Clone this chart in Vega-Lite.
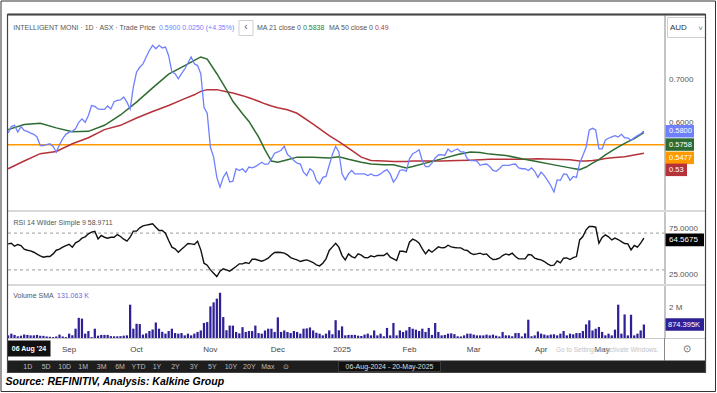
{
"$schema": "https://vega.github.io/schema/vega-lite/v6.json",
"padding": 0,
"bounds": "flush",
"spacing": 0,
"background": "white",
"data": {"values": [{}]},
"config": {"view": {"stroke": null}, "font": "Liberation Sans", "text": {"font": "Liberation Sans"}},
"resolve": {"scale": {"x": "independent", "y": "independent"}},
"datasets": {
"d": [
{"d":"2024-08-06","p":0.575,"r":58.3,"v":0.17},{"d":"2024-08-07","p":0.590,"r":59.0,"v":0.28},{"d":"2024-08-08","p":0.593,"r":55.8,"v":0.20},{"d":"2024-08-09","p":0.577,"r":57.6,"v":0.11},{"d":"2024-08-12","p":0.590,"r":56.5,"v":0.15},{"d":"2024-08-13","p":0.581,"r":52.5,"v":0.22},{"d":"2024-08-14","p":0.579,"r":51.4,"v":0.20},{"d":"2024-08-15","p":0.575,"r":50.7,"v":0.17},{"d":"2024-08-16","p":0.572,"r":49.2,"v":0.17},{"d":"2024-08-19","p":0.566,"r":47.1,"v":0.20},
{"d":"2024-08-20","p":0.546,"r":45.3,"v":0.15},{"d":"2024-08-21","p":0.546,"r":43.8,"v":0.14},{"d":"2024-08-22","p":0.548,"r":44.5,"v":0.10},{"d":"2024-08-23","p":0.550,"r":44.5,"v":0.08},{"d":"2024-08-26","p":0.544,"r":47.4,"v":0.06},{"d":"2024-08-27","p":0.531,"r":51.4,"v":0.10},{"d":"2024-08-28","p":0.548,"r":52.5,"v":0.22},{"d":"2024-08-29","p":0.562,"r":54.7,"v":0.10},{"d":"2024-08-30","p":0.572,"r":56.5,"v":0.06},{"d":"2024-09-02","p":0.577,"r":57.9,"v":0.28},
{"d":"2024-09-03","p":0.579,"r":54.7,"v":0.17},{"d":"2024-09-04","p":0.585,"r":59.4,"v":0.60},{"d":"2024-09-05","p":0.600,"r":61.2,"v":1.30},{"d":"2024-09-06","p":0.608,"r":64.5,"v":1.25},{"d":"2024-09-09","p":0.600,"r":65.9,"v":0.28},{"d":"2024-09-10","p":0.616,"r":69.2,"v":0.45},{"d":"2024-09-11","p":0.639,"r":71.0,"v":0.06},{"d":"2024-09-12","p":0.637,"r":72.0,"v":0.60},{"d":"2024-09-13","p":0.631,"r":63.7,"v":0.15},{"d":"2024-09-16","p":0.630,"r":67.4,"v":0.20},
{"d":"2024-09-17","p":0.630,"r":65.5,"v":0.20},{"d":"2024-09-18","p":0.638,"r":64.5,"v":0.20},{"d":"2024-09-19","p":0.631,"r":65.5,"v":0.12},{"d":"2024-09-20","p":0.648,"r":65.5,"v":0.11},{"d":"2024-09-23","p":0.651,"r":68.4,"v":0.11},{"d":"2024-09-24","p":0.652,"r":66.3,"v":0.12},{"d":"2024-09-25","p":0.659,"r":63.4,"v":0.15},{"d":"2024-09-26","p":0.647,"r":61.2,"v":0.17},{"d":"2024-09-27","p":0.631,"r":65.5,"v":2.15},{"d":"2024-09-30","p":0.682,"r":72.1,"v":0.60},
{"d":"2024-10-01","p":0.717,"r":72.1,"v":0.92},{"d":"2024-10-02","p":0.728,"r":75.7,"v":0.90},{"d":"2024-10-03","p":0.736,"r":77.9,"v":0.22},{"d":"2024-10-04","p":0.752,"r":78.6,"v":0.30},{"d":"2024-10-07","p":0.767,"r":79.3,"v":0.45},{"d":"2024-10-08","p":0.779,"r":80.0,"v":0.55},{"d":"2024-10-09","p":0.771,"r":76.4,"v":1.00},{"d":"2024-10-10","p":0.779,"r":72.8,"v":0.60},{"d":"2024-10-11","p":0.773,"r":72.8,"v":0.40},{"d":"2024-10-14","p":0.775,"r":69.9,"v":0.28},
{"d":"2024-10-15","p":0.755,"r":61.9,"v":0.45},{"d":"2024-10-16","p":0.717,"r":54.7,"v":0.60},{"d":"2024-10-17","p":0.713,"r":52.9,"v":0.32},{"d":"2024-10-18","p":0.701,"r":49.2,"v":0.28},{"d":"2024-10-21","p":0.713,"r":52.5,"v":0.32},{"d":"2024-10-22","p":0.724,"r":55.4,"v":0.17},{"d":"2024-10-23","p":0.738,"r":58.7,"v":0.28},{"d":"2024-10-24","p":0.752,"r":58.3,"v":0.17},{"d":"2024-10-25","p":0.736,"r":57.6,"v":0.28},{"d":"2024-10-28","p":0.732,"r":61.2,"v":0.39},
{"d":"2024-10-29","p":0.713,"r":51.8,"v":0.49},{"d":"2024-10-30","p":0.635,"r":37.3,"v":0.97},{"d":"2024-10-31","p":0.621,"r":35.1,"v":1.03},{"d":"2024-11-01","p":0.542,"r":30.0,"v":2.04},{"d":"2024-11-04","p":0.519,"r":26.4,"v":2.30},{"d":"2024-11-05","p":0.472,"r":22.8,"v":2.54},{"d":"2024-11-06","p":0.449,"r":28.6,"v":2.92},{"d":"2024-11-07","p":0.472,"r":31.1,"v":1.35},{"d":"2024-11-08","p":0.484,"r":30.0,"v":0.50},{"d":"2024-11-11","p":0.461,"r":28.6,"v":0.80},
{"d":"2024-11-12","p":0.463,"r":31.1,"v":0.80},{"d":"2024-11-13","p":0.492,"r":33.7,"v":0.39},{"d":"2024-11-14","p":0.488,"r":36.6,"v":0.30},{"d":"2024-11-15","p":0.492,"r":36.6,"v":0.70},{"d":"2024-11-18","p":0.484,"r":38.0,"v":0.39},{"d":"2024-11-19","p":0.496,"r":36.9,"v":0.45},{"d":"2024-11-20","p":0.494,"r":41.6,"v":0.45},{"d":"2024-11-21","p":0.497,"r":41.6,"v":0.80},{"d":"2024-11-22","p":0.502,"r":40.5,"v":0.32},{"d":"2024-11-25","p":0.507,"r":39.5,"v":0.28},
{"d":"2024-11-26","p":0.502,"r":40.9,"v":0.49},{"d":"2024-11-27","p":0.503,"r":42.7,"v":0.60},{"d":"2024-11-28","p":0.515,"r":46.3,"v":0.60},{"d":"2024-11-29","p":0.528,"r":48.9,"v":0.39},{"d":"2024-12-02","p":0.531,"r":49.2,"v":1.33},{"d":"2024-12-03","p":0.535,"r":48.9,"v":0.39},{"d":"2024-12-04","p":0.544,"r":48.2,"v":0.49},{"d":"2024-12-05","p":0.525,"r":46.3,"v":0.39},{"d":"2024-12-06","p":0.519,"r":43.4,"v":0.32},{"d":"2024-12-09","p":0.511,"r":42.0,"v":0.45},
{"d":"2024-12-10","p":0.505,"r":40.9,"v":0.39},{"d":"2024-12-11","p":0.503,"r":39.1,"v":0.28},{"d":"2024-12-12","p":0.484,"r":40.2,"v":0.60},{"d":"2024-12-13","p":0.476,"r":40.9,"v":0.62},{"d":"2024-12-16","p":0.492,"r":39.5,"v":0.68},{"d":"2024-12-17","p":0.486,"r":38.0,"v":0.49},{"d":"2024-12-18","p":0.465,"r":35.5,"v":0.34},{"d":"2024-12-19","p":0.457,"r":34.4,"v":0.28},{"d":"2024-12-20","p":0.472,"r":37.3,"v":0.17},{"d":"2024-12-23","p":0.474,"r":42.0,"v":0.28},
{"d":"2024-12-24","p":0.500,"r":51.1,"v":0.49},{"d":"2024-12-27","p":0.525,"r":55.0,"v":0.24},{"d":"2024-12-30","p":0.544,"r":59.0,"v":1.15},{"d":"2024-12-31","p":0.531,"r":54.7,"v":0.50},{"d":"2025-01-02","p":0.480,"r":45.6,"v":0.75},{"d":"2025-01-03","p":0.466,"r":40.9,"v":0.17},{"d":"2025-01-06","p":0.480,"r":47.4,"v":0.20},{"d":"2025-01-07","p":0.488,"r":44.5,"v":0.20},{"d":"2025-01-08","p":0.480,"r":43.1,"v":0.20},{"d":"2025-01-09","p":0.480,"r":47.4,"v":0.15},
{"d":"2025-01-10","p":0.480,"r":46.0,"v":0.13},{"d":"2025-01-13","p":0.480,"r":43.4,"v":0.22},{"d":"2025-01-14","p":0.476,"r":43.1,"v":0.28},{"d":"2025-01-15","p":0.480,"r":45.3,"v":0.17},{"d":"2025-01-16","p":0.476,"r":44.2,"v":0.49},{"d":"2025-01-17","p":0.476,"r":45.6,"v":0.17},{"d":"2025-01-20","p":0.480,"r":45.6,"v":0.28},{"d":"2025-01-21","p":0.486,"r":45.6,"v":0.11},{"d":"2025-01-22","p":0.490,"r":48.2,"v":0.65},{"d":"2025-01-23","p":0.480,"r":43.8,"v":0.17},
{"d":"2025-01-24","p":0.461,"r":42.0,"v":0.97},{"d":"2025-01-28","p":0.471,"r":40.2,"v":0.17},{"d":"2025-01-29","p":0.488,"r":50.3,"v":0.49},{"d":"2025-01-30","p":0.490,"r":50.3,"v":0.39},{"d":"2025-01-31","p":0.486,"r":49.2,"v":0.49},{"d":"2025-02-03","p":0.515,"r":60.1,"v":0.71},{"d":"2025-02-04","p":0.527,"r":63.4,"v":0.60},{"d":"2025-02-05","p":0.531,"r":61.9,"v":0.54},{"d":"2025-02-06","p":0.536,"r":59.0,"v":0.45},{"d":"2025-02-07","p":0.510,"r":52.9,"v":0.60},
{"d":"2025-02-10","p":0.497,"r":47.4,"v":0.39},{"d":"2025-02-11","p":0.497,"r":51.8,"v":0.65},{"d":"2025-02-12","p":0.505,"r":49.2,"v":0.20},{"d":"2025-02-13","p":0.517,"r":52.1,"v":0.97},{"d":"2025-02-14","p":0.524,"r":55.0,"v":0.39},{"d":"2025-02-17","p":0.525,"r":53.9,"v":0.17},{"d":"2025-02-18","p":0.523,"r":54.3,"v":0.20},{"d":"2025-02-19","p":0.538,"r":56.8,"v":0.28},{"d":"2025-02-20","p":0.531,"r":55.0,"v":0.30},{"d":"2025-02-21","p":0.535,"r":54.3,"v":0.25},
{"d":"2025-02-24","p":0.538,"r":53.9,"v":0.11},{"d":"2025-02-25","p":0.531,"r":53.9,"v":0.10},{"d":"2025-02-26","p":0.531,"r":51.8,"v":0.17},{"d":"2025-02-27","p":0.515,"r":51.1,"v":0.28},{"d":"2025-02-28","p":0.511,"r":48.2,"v":0.28},{"d":"2025-03-03","p":0.511,"r":46.7,"v":0.22},{"d":"2025-03-04","p":0.510,"r":47.4,"v":0.17},{"d":"2025-03-05","p":0.500,"r":48.2,"v":0.17},{"d":"2025-03-06","p":0.502,"r":46.7,"v":0.17},{"d":"2025-03-07","p":0.503,"r":47.4,"v":0.22},
{"d":"2025-03-10","p":0.497,"r":43.8,"v":0.17},{"d":"2025-03-11","p":0.488,"r":41.3,"v":0.22},{"d":"2025-03-12","p":0.486,"r":41.6,"v":0.15},{"d":"2025-03-13","p":0.492,"r":42.7,"v":0.10},{"d":"2025-03-14","p":0.500,"r":45.6,"v":0.39},{"d":"2025-03-17","p":0.500,"r":47.4,"v":0.17},{"d":"2025-03-18","p":0.500,"r":46.3,"v":0.17},{"d":"2025-03-19","p":0.502,"r":48.2,"v":0.11},{"d":"2025-03-20","p":0.503,"r":44.5,"v":0.32},{"d":"2025-03-21","p":0.494,"r":42.0,"v":0.32},
{"d":"2025-03-24","p":0.492,"r":42.0,"v":0.10},{"d":"2025-03-25","p":0.492,"r":42.0,"v":0.30},{"d":"2025-03-26","p":0.488,"r":46.7,"v":1.18},{"d":"2025-03-27","p":0.494,"r":46.3,"v":0.11},{"d":"2025-03-28","p":0.486,"r":42.7,"v":0.17},{"d":"2025-03-31","p":0.472,"r":41.6,"v":0.42},{"d":"2025-04-01","p":0.484,"r":40.9,"v":0.28},{"d":"2025-04-02","p":0.476,"r":39.1,"v":0.22},{"d":"2025-04-03","p":0.465,"r":36.6,"v":0.17},{"d":"2025-04-04","p":0.453,"r":34.7,"v":0.22},
{"d":"2025-04-07","p":0.438,"r":35.1,"v":0.24},{"d":"2025-04-08","p":0.466,"r":39.8,"v":0.17},{"d":"2025-04-09","p":0.465,"r":37.7,"v":0.28},{"d":"2025-04-10","p":0.480,"r":42.7,"v":0.45},{"d":"2025-04-11","p":0.479,"r":43.1,"v":0.17},{"d":"2025-04-14","p":0.465,"r":41.3,"v":0.28},{"d":"2025-04-15","p":0.474,"r":43.4,"v":0.24},{"d":"2025-04-16","p":0.472,"r":44.5,"v":0.32},{"d":"2025-04-17","p":0.505,"r":62.6,"v":0.32},{"d":"2025-04-22","p":0.523,"r":66.3,"v":0.45},
{"d":"2025-04-23","p":0.542,"r":73.5,"v":0.88},{"d":"2025-04-24","p":0.582,"r":77.1,"v":1.14},{"d":"2025-04-28","p":0.586,"r":77.1,"v":0.49},{"d":"2025-04-29","p":0.582,"r":76.4,"v":0.60},{"d":"2025-04-30","p":0.538,"r":59.0,"v":0.71},{"d":"2025-05-01","p":0.538,"r":65.2,"v":0.39},{"d":"2025-05-02","p":0.559,"r":68.1,"v":0.17},{"d":"2025-05-05","p":0.563,"r":65.9,"v":0.28},{"d":"2025-05-06","p":0.566,"r":62.6,"v":0.17},{"d":"2025-05-07","p":0.569,"r":64.5,"v":0.54},
{"d":"2025-05-08","p":0.566,"r":63.0,"v":2.15},{"d":"2025-05-09","p":0.572,"r":60.8,"v":0.28},{"d":"2025-05-12","p":0.564,"r":58.7,"v":1.52},{"d":"2025-05-13","p":0.564,"r":58.3,"v":0.17},{"d":"2025-05-14","p":0.558,"r":51.8,"v":1.50},{"d":"2025-05-15","p":0.564,"r":56.5,"v":0.17},{"d":"2025-05-16","p":0.569,"r":54.7,"v":0.28},{"d":"2025-05-19","p":0.573,"r":59.0,"v":0.49},{"d":"2025-05-20","p":0.580,"r":64.6,"v":0.87}
],
"ma": [
{"d":"2024-08-06","g":0.583,"m":0.492},{"d":"2024-08-13","g":0.595,"m":0.510},{"d":"2024-08-20","g":0.598,"m":0.527},{"d":"2024-08-27","g":0.587,"m":0.532},{"d":"2024-09-03","g":0.578,"m":0.550},{"d":"2024-09-10","g":0.579,"m":0.564},{"d":"2024-09-17","g":0.593,"m":0.583},{"d":"2024-09-24","g":0.617,"m":0.593},{"d":"2024-10-01","g":0.647,"m":0.610},{"d":"2024-10-08","g":0.680,"m":0.625},
{"d":"2024-10-15","g":0.712,"m":0.639},{"d":"2024-10-22","g":0.732,"m":0.655},{"d":"2024-10-25","g":0.744,"m":0.664},{"d":"2024-10-29","g":0.752,"m":0.672},{"d":"2024-10-31","g":0.747,"m":0.676},{"d":"2024-11-05","g":0.713,"m":0.676},{"d":"2024-11-08","g":0.676,"m":0.671},{"d":"2024-11-12","g":0.649,"m":0.668},{"d":"2024-11-15","g":0.620,"m":0.662},{"d":"2024-11-19","g":0.602,"m":0.657},
{"d":"2024-11-22","g":0.566,"m":0.649},{"d":"2024-11-26","g":0.536,"m":0.643},{"d":"2024-11-28","g":0.510,"m":0.638},{"d":"2024-12-02","g":0.507,"m":0.634},{"d":"2024-12-05","g":0.513,"m":0.629},{"d":"2024-12-10","g":0.519,"m":0.621},{"d":"2024-12-17","g":0.519,"m":0.596},{"d":"2024-12-24","g":0.517,"m":0.569},{"d":"2024-12-31","g":0.520,"m":0.555},{"d":"2025-01-06","g":0.514,"m":0.540},
{"d":"2025-01-10","g":0.507,"m":0.519},{"d":"2025-01-15","g":0.503,"m":0.511},{"d":"2025-01-21","g":0.501,"m":0.510},{"d":"2025-01-24","g":0.501,"m":0.509},{"d":"2025-01-31","g":0.494,"m":0.509},{"d":"2025-02-04","g":0.497,"m":0.510},{"d":"2025-02-10","g":0.505,"m":0.510},{"d":"2025-02-17","g":0.515,"m":0.510},{"d":"2025-02-24","g":0.525,"m":0.511},{"d":"2025-02-28","g":0.531,"m":0.512},
{"d":"2025-03-05","g":0.530,"m":0.513},{"d":"2025-03-10","g":0.526,"m":0.514},{"d":"2025-03-17","g":0.523,"m":0.514},{"d":"2025-03-24","g":0.515,"m":0.514},{"d":"2025-03-31","g":0.508,"m":0.515},{"d":"2025-04-07","g":0.501,"m":0.514},{"d":"2025-04-14","g":0.494,"m":0.513},{"d":"2025-04-17","g":0.490,"m":0.510},{"d":"2025-04-23","g":0.496,"m":0.510},{"d":"2025-04-28","g":0.505,"m":0.511},
{"d":"2025-04-30","g":0.513,"m":0.513},{"d":"2025-05-02","g":0.524,"m":0.516},{"d":"2025-05-07","g":0.538,"m":0.518},{"d":"2025-05-12","g":0.551,"m":0.520},{"d":"2025-05-15","g":0.562,"m":0.524},{"d":"2025-05-20","g":0.576,"m":0.528}
],
"btn": [{"b":"1D"},{"b":"5D"},{"b":"10D"},{"b":"1M"},{"b":"3M"},{"b":"6M"},{"b":"YTD"},{"b":"1Y"},{"b":"2Y"},{"b":"3Y"},{"b":"5Y"},{"b":"10Y"},{"b":"20Y"},{"b":"Max"},{"b":"⊙"}]
},
"vconcat": [
{
"width": 698, "height": 196,
"layer": [
{"mark": {"type": "rule", "color": "#ff9900", "strokeWidth": 1.5}, "encoding": {"y": {"datum": 0.5477, "type": "quantitative", "scale": {"domain": [0.3937, 0.8496], "nice": false, "zero": false}, "axis": {"orient": "right", "offset": -41.5, "values": [0.6, 0.7], "format": ".4f", "title": null, "ticks": false, "grid": false, "domainColor": "#8a8a8a", "labelColor": "#555", "labelFontSize": 8, "labelPadding": 4, "labelFont": "Liberation Sans"}}, "x": {"value": 0}, "x2": {"value": 656.5}}},
{"data": {"name": "ma"}, "mark": {"type": "line", "color": "#b5323a", "strokeWidth": 1.5}, "encoding": {"x": {"field": "d", "type": "ordinal", "bandPosition": 0.5, "scale": {"type": "band", "range": [-1, 637], "paddingInner": 0.3, "paddingOuter": 0}, "axis": null}, "y": {"field": "m", "type": "quantitative"}}},
{"data": {"name": "ma"}, "mark": {"type": "line", "color": "#2e6b30", "strokeWidth": 1.5}, "encoding": {"x": {"field": "d", "type": "ordinal", "bandPosition": 0.5, "axis": null}, "y": {"field": "g", "type": "quantitative"}}},
{"data": {"name": "d"}, "mark": {"type": "line", "color": "#6f80ff", "strokeWidth": 1.3}, "encoding": {"x": {"field": "d", "type": "ordinal", "bandPosition": 0.5, "axis": null}, "y": {"field": "p", "type": "quantitative"}}},
{"mark": {"type": "text", "text": "INTELLIGENT MONI · 1D · ASX · Trade Price", "align": "left", "baseline": "middle", "fontSize": 7, "color": "#555"}, "encoding": {"x": {"value": 5.2}, "y": {"value": 12.8}}},
{"mark": {"type": "text", "text": "0.5900  0.0250 (+4.35%)", "align": "left", "baseline": "middle", "fontSize": 7, "color": "#6f80ff"}, "encoding": {"x": {"value": 151}, "y": {"value": 12.8}}},
{"mark": {"type": "rect", "fill": "white", "stroke": "#d0d0d0", "strokeWidth": 1}, "encoding": {"x": {"value": 231}, "x2": {"value": 245}, "y": {"value": 5.5}, "y2": {"value": 20.5}}},
{"mark": {"type": "text", "text": "‹", "align": "center", "baseline": "middle", "fontSize": 10, "color": "#555"}, "encoding": {"x": {"value": 238}, "y": {"value": 12.3}}},
{"mark": {"type": "text", "text": "MA 21 close 0", "align": "left", "baseline": "middle", "fontSize": 7, "color": "#555"}, "encoding": {"x": {"value": 249}, "y": {"value": 12.8}}},
{"mark": {"type": "text", "text": "0.5838", "align": "left", "baseline": "middle", "fontSize": 7, "color": "#2e7d32"}, "encoding": {"x": {"value": 295}, "y": {"value": 12.8}}},
{"mark": {"type": "text", "text": "MA 50 close 0", "align": "left", "baseline": "middle", "fontSize": 7, "color": "#555"}, "encoding": {"x": {"value": 321}, "y": {"value": 12.8}}},
{"mark": {"type": "text", "text": "0.49", "align": "left", "baseline": "middle", "fontSize": 7, "color": "#c0392b"}, "encoding": {"x": {"value": 367}, "y": {"value": 12.8}}},
{"mark": {"type": "rect", "fill": "white", "stroke": "#d0d0d0", "strokeWidth": 1}, "encoding": {"x": {"value": 659.5}, "x2": {"value": 697.5}, "y": {"value": 2.5}, "y2": {"value": 22.5}}},
{"mark": {"type": "text", "text": "AUD", "align": "left", "baseline": "middle", "fontSize": 8, "color": "#333"}, "encoding": {"x": {"value": 662}, "y": {"value": 12.8}}},
{"mark": {"type": "text", "text": "˅", "align": "center", "baseline": "middle", "fontSize": 8, "color": "#777"}, "encoding": {"x": {"value": 692.5}, "y": {"value": 13.5}}},
{"mark": {"type": "rect", "fill": "#6f80ff"}, "encoding": {"x": {"value": 657.5}, "x2": {"value": 686}, "y": {"value": 110}, "y2": {"value": 122.5}}},
{"mark": {"type": "text", "text": "0.5800", "align": "left", "baseline": "middle", "fontSize": 7.5, "color": "white"}, "encoding": {"x": {"value": 661}, "y": {"value": 116.3}}},
{"mark": {"type": "rect", "fill": "#2e6b30"}, "encoding": {"x": {"value": 657.5}, "x2": {"value": 686}, "y": {"value": 123.3}, "y2": {"value": 135.8}}},
{"mark": {"type": "text", "text": "0.5758", "align": "left", "baseline": "middle", "fontSize": 7.5, "color": "white"}, "encoding": {"x": {"value": 661}, "y": {"value": 129.6}}},
{"mark": {"type": "rect", "fill": "#ff9900"}, "encoding": {"x": {"value": 657.5}, "x2": {"value": 686}, "y": {"value": 136.6}, "y2": {"value": 149.1}}},
{"mark": {"type": "text", "text": "0.5477", "align": "left", "baseline": "middle", "fontSize": 7.5, "color": "white"}, "encoding": {"x": {"value": 661}, "y": {"value": 142.9}}},
{"mark": {"type": "rect", "fill": "#b5323a"}, "encoding": {"x": {"value": 657.5}, "x2": {"value": 679}, "y": {"value": 148.6}, "y2": {"value": 161.1}}},
{"mark": {"type": "text", "text": "0.53", "align": "left", "baseline": "middle", "fontSize": 7.5, "color": "white"}, "encoding": {"x": {"value": 661}, "y": {"value": 154.9}}}
]
},
{
"width": 698, "height": 74,
"layer": [
{"mark": {"type": "rule", "color": "#9a9a9a", "strokeDash": [3, 3], "strokeWidth": 1}, "encoding": {"y": {"datum": 70, "type": "quantitative", "scale": {"domain": [13.6, 94], "nice": false, "zero": false}, "axis": {"orient": "right", "offset": -41.5, "values": [25, 50, 75], "format": ".4f", "title": null, "ticks": false, "grid": false, "domainColor": "#8a8a8a", "labelColor": "#555", "labelFontSize": 8, "labelPadding": 4, "labelFont": "Liberation Sans"}}, "x": {"value": 0}, "x2": {"value": 656.5}}},
{"mark": {"type": "rule", "color": "#9a9a9a", "strokeDash": [3, 3], "strokeWidth": 1}, "encoding": {"y": {"datum": 30, "type": "quantitative"}, "x": {"value": 0}, "x2": {"value": 656.5}}},
{"data": {"name": "d"}, "mark": {"type": "line", "color": "#111", "strokeWidth": 1.4}, "encoding": {"x": {"field": "d", "type": "ordinal", "bandPosition": 0.5, "scale": {"type": "band", "range": [-1, 637], "paddingInner": 0.3, "paddingOuter": 0}, "axis": null}, "y": {"field": "r", "type": "quantitative"}}},
{"mark": {"type": "text", "text": "RSI 14 Wilder Simple 9  58.9711", "align": "left", "baseline": "middle", "fontSize": 7, "color": "#555"}, "encoding": {"x": {"value": 5.5}, "y": {"value": 11.5}}},
{"mark": {"type": "rect", "fill": "#000"}, "encoding": {"x": {"value": 657.5}, "x2": {"value": 696}, "y": {"value": 22.5}, "y2": {"value": 35.2}}},
{"mark": {"type": "text", "text": "64.5675", "align": "left", "baseline": "middle", "fontSize": 8, "color": "white"}, "encoding": {"x": {"value": 661}, "y": {"value": 28.9}}}
]
},
{
"width": 698, "height": 53,
"resolve": {"scale": {"x": "independent"}},
"layer": [
{"data": {"name": "d"}, "mark": {"type": "bar", "color": "#2e2096"}, "encoding": {"x": {"field": "d", "type": "ordinal", "scale": {"type": "band", "range": [-1, 637], "paddingInner": 0.3, "paddingOuter": 0}, "axis": {"title": null, "values": ["2024-09-02", "2024-10-01", "2024-11-01", "2024-12-02", "2025-01-02", "2025-02-03", "2025-03-03", "2025-04-01", "2025-05-01"], "labelExpr": "substring(datum.value,5,7)=='01' ? '2025' : ['','Jan','Feb','Mar','Apr','May','Jun','Jul','Aug','Sep','Oct','Nov','Dec'][toNumber(substring(datum.value,5,7))]", "labelFontWeight": {"condition": {"test": "datum.label == '2025'", "value": "bold"}, "value": "normal"}, "domain": false, "ticks": false, "labelPadding": 7, "labelFontSize": 8, "labelColor": "#444", "labelAngle": 0, "labelFont": "Liberation Sans"}}, "y": {"field": "v", "type": "quantitative", "scale": {"domain": [0, 3.42], "nice": false}, "axis": {"orient": "right", "offset": -41.5, "values": [2], "labelExpr": "'2 M'", "title": null, "ticks": false, "grid": false, "domainColor": "#8a8a8a", "labelColor": "#555", "labelFontSize": 8, "labelPadding": 4, "labelFont": "Liberation Sans"}}}},
{"mark": {"type": "text", "text": "Volume SMA", "align": "left", "baseline": "middle", "fontSize": 7, "color": "#555"}, "encoding": {"x": {"value": 5.2}, "y": {"value": 10.5}}},
{"mark": {"type": "text", "text": "131.063 K", "align": "left", "baseline": "middle", "fontSize": 7, "color": "#7366d8"}, "encoding": {"x": {"value": 49}, "y": {"value": 10.5}}},
{"mark": {"type": "rect", "fill": "#2e2096"}, "encoding": {"x": {"value": 657.5}, "x2": {"value": 696}, "y": {"value": 33.2}, "y2": {"value": 45.8}}},
{"mark": {"type": "text", "text": "874.395K", "align": "left", "baseline": "middle", "fontSize": 7.5, "color": "white"}, "encoding": {"x": {"value": 660}, "y": {"value": 39.5}}},
{"mark": {"type": "rule", "color": "#d9d9d9", "strokeWidth": 2}, "encoding": {"x": {"value": -0.5}, "x2": {"value": 697.5}, "y": {"value": -74}}},
{"mark": {"type": "rule", "color": "#d9d9d9", "strokeWidth": 2}, "encoding": {"x": {"value": -0.5}, "x2": {"value": 697.5}, "y": {"value": 0}}},
{"mark": {"type": "rule", "color": "#c8c8c8", "strokeWidth": 1}, "encoding": {"x": {"value": -0.5}, "x2": {"value": 697.5}, "y": {"value": 53.5}}},
{"mark": {"type": "rule", "color": "#8a8a8a", "strokeWidth": 1}, "encoding": {"x": {"value": 656.5}, "y": {"value": 53}, "y2": {"value": 75.5}}},
{"mark": {"type": "text", "text": "Go to Settings to activate Windows.", "align": "left", "baseline": "middle", "fontSize": 6.5, "color": "#c4c4c4"}, "encoding": {"x": {"value": 548}, "y": {"value": 64.5}}},
{"mark": {"type": "text", "text": "⊙", "align": "center", "baseline": "middle", "fontSize": 10, "color": "#666"}, "encoding": {"x": {"value": 678.5}, "y": {"value": 63.5}}},
{"mark": {"type": "rect", "fill": "#111"}, "encoding": {"x": {"value": -0.5}, "x2": {"value": 42.5}, "y": {"value": 55.5}, "y2": {"value": 71.5}}},
{"mark": {"type": "text", "text": "06 Aug '24", "align": "center", "baseline": "middle", "fontSize": 7, "fontWeight": "bold", "color": "white"}, "encoding": {"x": {"value": 21}, "y": {"value": 63.5}}},
{"mark": {"type": "rect", "fill": "#1e1e1e"}, "encoding": {"x": {"value": -0.5}, "x2": {"value": 697.5}, "y": {"value": 75.5}, "y2": {"value": 87.5}}},
{"mark": {"type": "rect", "fill": "#111", "stroke": "#444", "strokeWidth": 0.8}, "encoding": {"x": {"value": 330.5}, "x2": {"value": 432.5}, "y": {"value": 76.5}, "y2": {"value": 86.5}}},
{"mark": {"type": "text", "text": "06-Aug-2024  -  20-May-2025", "align": "left", "baseline": "middle", "fontSize": 7, "color": "#ddd"}, "encoding": {"x": {"value": 337.5}, "y": {"value": 81.5}}},
{"data": {"name": "btn"}, "mark": {"type": "text", "align": "center", "baseline": "middle", "fontSize": 7, "color": "#bbb"}, "encoding": {"x": {"field": "b", "type": "ordinal", "sort": null, "scale": {"type": "point", "range": [10.5, 287.5]}, "axis": null}, "y": {"value": 81.5}, "text": {"field": "b"}}},
{"mark": {"type": "text", "text": "Source: REFINITIV, Analysis: Kalkine Group", "align": "left", "baseline": "middle", "fontSize": 10.5, "fontWeight": "bold", "fontStyle": "italic", "color": "#000"}, "encoding": {"x": {"value": -2.5}, "y": {"value": 96.5}}},
{"mark": {"type": "rule", "color": "#333", "strokeWidth": 2}, "encoding": {"x": {"value": -0.5}, "x2": {"value": 697.5}, "y": {"value": -270.5}}},
{"mark": {"type": "rect", "fill": null, "stroke": "#444", "strokeWidth": 1.2}, "encoding": {"x": {"value": -0.5}, "x2": {"value": 697.5}, "y": {"value": -270.5}, "y2": {"value": 87.5}}},
{"mark": {"type": "rect", "fill": null, "stroke": "#333", "strokeWidth": 1}, "encoding": {"x": {"value": -7}, "x2": {"value": 707.5}, "y": {"value": -284}, "y2": {"value": 106.5}}}
]
}
]
}
